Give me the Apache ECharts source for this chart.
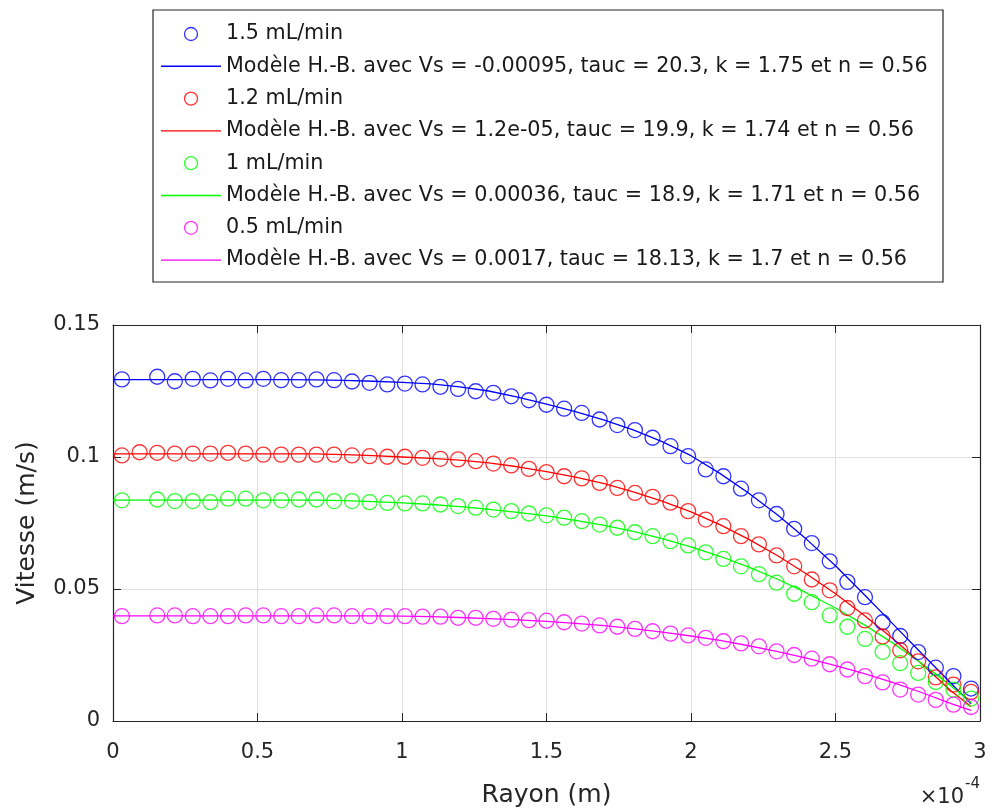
<!DOCTYPE html>
<html>
<head>
<meta charset="utf-8">
<script src="https://cdn.jsdelivr.net/npm/echarts@6/dist/echarts.min.js"></script>
<style>
html,body{margin:0;padding:0;background:#fff;}
#chart{width:992px;height:809px;}
</style>
</head>
<body>
<div id="chart"></div>
<script>
// Radius of measurement points, in units of 1e-4 m (axis shows "x10^-4")
const radius = [0.031,0.092,0.153,0.214,0.276,0.337,0.398,0.459,0.520,0.582,0.643,0.704,0.765,0.827,0.888,0.949,1.010,1.071,1.133,1.194,1.255,1.316,1.378,1.439,1.500,1.561,1.622,1.684,1.745,1.806,1.867,1.929,1.990,2.051,2.112,2.173,2.235,2.296,2.357,2.418,2.480,2.541,2.602,2.663,2.724,2.786,2.847,2.908,2.969];

// Measured velocities (m/s)
const v15 = [0.1294,null,0.1304,0.1287,0.1296,0.1290,0.1296,0.1290,0.1296,0.1291,0.1291,0.1294,0.1291,0.1286,0.1281,0.1275,0.1278,0.1275,0.1266,0.1258,0.1249,0.1243,0.1230,0.1215,0.1198,0.1183,0.1167,0.1142,0.1121,0.1102,0.1073,0.1041,0.1003,0.0953,0.0927,0.0880,0.0836,0.0784,0.0728,0.0674,0.0605,0.0527,0.0469,0.0374,0.0322,0.0261,0.0202,0.0170,0.0123];
const v12 = [0.1006,0.1018,0.1016,0.1013,0.1013,0.1013,0.1016,0.1013,0.1009,0.1009,0.1009,0.1009,0.1009,0.1006,0.1003,0.1001,0.1001,0.0997,0.0993,0.0991,0.0984,0.0975,0.0968,0.0955,0.0943,0.0927,0.0919,0.0902,0.0883,0.0864,0.0849,0.0827,0.0795,0.0763,0.0738,0.0700,0.0669,0.0627,0.0586,0.0536,0.0495,0.0428,0.0381,0.0320,0.0268,0.0226,0.0165,0.0138,0.0110];
const v10 = [0.0836,null,0.0839,0.0833,0.0833,0.0829,0.0842,0.0842,0.0836,0.0836,0.0839,0.0839,0.0833,0.0833,0.0829,0.0826,0.0824,0.0824,0.0820,0.0814,0.0808,0.0801,0.0795,0.0786,0.0779,0.0770,0.0757,0.0744,0.0732,0.0715,0.0700,0.0681,0.0665,0.0639,0.0614,0.0586,0.0556,0.0524,0.0482,0.0450,0.0400,0.0357,0.0311,0.0262,0.0219,0.0182,0.0148,0.0119,0.0085];
const v05 = [0.0397,null,0.0400,0.0400,0.0397,0.0397,0.0397,0.0400,0.0400,0.0397,0.0397,0.0400,0.0400,0.0397,0.0397,0.0397,0.0397,0.0395,0.0395,0.0391,0.0391,0.0387,0.0384,0.0382,0.0380,0.0374,0.0369,0.0362,0.0357,0.0349,0.0340,0.0331,0.0324,0.0315,0.0302,0.0294,0.0283,0.0264,0.0250,0.0236,0.0215,0.0195,0.0170,0.0146,0.0119,0.0100,0.0080,0.0062,0.0053];

// Model (Herschel-Bulkley) curves
const modelR = [0,0.1,0.2,0.3,0.4,0.5,0.6,0.7,0.8,0.9,1.0,1.1,1.2,1.3,1.4,1.5,1.6,1.7,1.8,1.9,2.0,2.1,2.2,2.3,2.4,2.5,2.6,2.7,2.8,2.9,2.969];
const m15 = [0.1293,0.1293,0.1293,0.1293,0.1293,0.1293,0.1293,0.1292,0.1290,0.1287,0.1283,0.1277,0.1266,0.1250,0.1227,0.1200,0.1172,0.1140,0.1103,0.1058,0.1005,0.0938,0.0863,0.0780,0.0688,0.0588,0.0478,0.0366,0.0254,0.0143,0.0065];
const m12 = [0.1012,0.1012,0.1012,0.1012,0.1012,0.1012,0.1012,0.1012,0.1009,0.1005,0.1000,0.0995,0.0988,0.0978,0.0963,0.0945,0.0924,0.0899,0.0868,0.0833,0.0792,0.0744,0.0688,0.0626,0.0557,0.0482,0.0400,0.0311,0.0215,0.0114,0.0055];
const m10 = [0.0837,0.0837,0.0837,0.0837,0.0837,0.0837,0.0837,0.0837,0.0835,0.0831,0.0826,0.0820,0.0812,0.0802,0.0790,0.0777,0.0760,0.0741,0.0718,0.0691,0.0660,0.0624,0.0583,0.0537,0.0485,0.0428,0.0364,0.0294,0.0217,0.0133,0.0070];
const m05 = [0.0398,0.0398,0.0398,0.0398,0.0398,0.0398,0.0398,0.0398,0.0398,0.0398,0.0397,0.0395,0.0392,0.0388,0.0383,0.0377,0.0370,0.0361,0.0350,0.0337,0.0322,0.0305,0.0285,0.0263,0.0238,0.0210,0.0179,0.0145,0.0107,0.0066,0.0040];

const xTicks = [0,0.5,1,1.5,2,2.5,3];
const yTicks = [0,0.05,0.1,0.15];

const dataNames = ['1.5 mL/min','1.2 mL/min','1 mL/min','0.5 mL/min'];
const modelNames = [
  'Modèle H.-B. avec Vs = -0.00095, tauc = 20.3, k = 1.75 et n = 0.56',
  'Modèle H.-B. avec Vs = 1.2e-05, tauc = 19.9, k = 1.74 et n = 0.56',
  'Modèle H.-B. avec Vs = 0.00036, tauc = 18.9, k = 1.71 et n = 0.56',
  'Modèle H.-B. avec Vs = 0.0017, tauc = 18.13, k = 1.7 et n = 0.56'
];
const colors = ['#0000ff','#ff0000','#00ff00','#ff00ff'];
const measured = [v15,v12,v10,v05];
const models = [m15,m12,m10,m05];

const FONT = 'DejaVu Sans';
const TXT = '#262626';

const series = [];
const legendData = [];
for (let i = 0; i < 4; i++) {
  series.push({
    name: dataNames[i],
    type: 'scatter',
    symbol: 'circle',
    symbolSize: 15,
    data: radius.map((r, j) => measured[i][j] == null ? null : [r, measured[i][j]]).filter(d => d),
    itemStyle: {color: 'rgba(0,0,0,0)', borderColor: colors[i], borderWidth: 1.3},
    emphasis: {disabled: true},
    z: 3
  });
  series.push({
    name: modelNames[i],
    type: 'line',
    symbol: 'none',
    showSymbol: false,
    data: modelR.map((r, j) => [r, models[i][j]]),
    lineStyle: {color: colors[i], width: 1.3},
    itemStyle: {color: colors[i]},
    emphasis: {disabled: true},
    z: 3
  });
  legendData.push({name: dataNames[i], icon: 'circle',
    itemStyle: {color: 'rgba(0,0,0,0)', borderColor: colors[i], borderWidth: 1.3}});
  legendData.push({name: modelNames[i], icon: 'path://M0,0L60,0L60,1.4L0,1.4Z',
    itemStyle: {color: colors[i], borderWidth: 0}});
}

const chart = echarts.init(document.getElementById('chart'), null, {renderer: 'canvas'});
chart.setOption({
  backgroundColor: '#ffffff',
  animation: false,
  textStyle: {fontFamily: FONT},
  grid: {left: 113, right: 12, top: 325, bottom: 88},
  legend: {
    orient: 'vertical',
    left: 161,
    top: 23,
    padding: 0,
    itemWidth: 60,
    itemHeight: 13,
    itemGap: 10.3,
    itemTextGap: 7,
    selectedMode: false,
    textStyle: {fontFamily: FONT, fontSize: 20.7, color: '#1a1a1a', lineHeight: 22},
    data: legendData
  },
  graphic: [
    {type: 'rect', shape: {x: 153, y: 10, width: 790, height: 272},
     style: {fill: 'rgba(0,0,0,0)', stroke: '#262626', lineWidth: 1.2}, z: 10},
    {type: 'text', x: 964, y: 798, style: {text: '×10', font: '21px "DejaVu Sans"', fill: TXT, textAlign: 'right', textVerticalAlign: 'middle'}},
    {type: 'text', x: 965, y: 784, style: {text: '-4', font: '15px "DejaVu Sans"', fill: TXT, textAlign: 'left', textVerticalAlign: 'middle'}}
  ],
  xAxis: [{
    type: 'value', min: xTicks[0], max: xTicks[xTicks.length - 1], interval: 0.5,
    name: 'Rayon (m)', nameLocation: 'middle', nameGap: 62,
    nameTextStyle: {fontFamily: FONT, fontSize: 25, color: TXT},
    axisLine: {show: true, onZero: false, lineStyle: {color: TXT, width: 1.2}},
    axisTick: {show: true, inside: true, length: 8, lineStyle: {color: TXT}},
    axisLabel: {fontFamily: FONT, fontSize: 21, color: TXT, margin: 21},
    splitLine: {show: true, lineStyle: {color: '#dfdfdf', width: 1}}
  }, {
    type: 'value', position: 'top', min: xTicks[0], max: xTicks[xTicks.length - 1], interval: 0.5,
    axisLine: {show: true, onZero: false, lineStyle: {color: TXT, width: 1.2}},
    axisTick: {show: true, inside: true, length: 8, lineStyle: {color: TXT}},
    axisLabel: {show: false}, splitLine: {show: false}
  }],
  yAxis: [{
    type: 'value', min: yTicks[0], max: yTicks[yTicks.length - 1], interval: 0.05,
    name: 'Vitesse (m/s)', nameLocation: 'middle', nameGap: 73,
    nameTextStyle: {fontFamily: FONT, fontSize: 25, color: TXT},
    axisLine: {show: true, onZero: false, lineStyle: {color: TXT, width: 1.2}},
    axisTick: {show: true, inside: true, length: 8, lineStyle: {color: TXT}},
    axisLabel: {fontFamily: FONT, fontSize: 21, color: TXT, margin: 13},
    splitLine: {show: true, lineStyle: {color: '#dfdfdf', width: 1}}
  }, {
    type: 'value', position: 'right', min: yTicks[0], max: yTicks[yTicks.length - 1], interval: 0.05,
    axisLine: {show: true, onZero: false, lineStyle: {color: TXT, width: 1.2}},
    axisTick: {show: true, inside: true, length: 8, lineStyle: {color: TXT}},
    axisLabel: {show: false}, splitLine: {show: false}
  }],
  series: series
});
</script>
</body>
</html>
